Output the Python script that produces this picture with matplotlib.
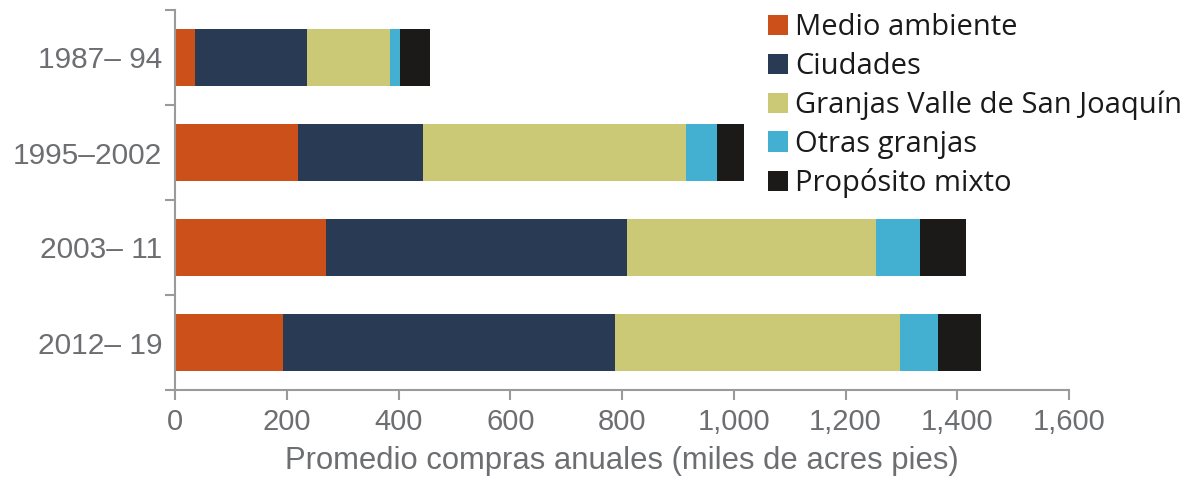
import matplotlib
matplotlib.use("Agg")
import matplotlib.pyplot as plt
from matplotlib.patches import Patch
import numpy as np

categories = ["1987– 94", "1995–2002", "2003– 11", "2012– 19"]
series_names = ["Medio ambiente", "Ciudades", "Granjas Valle de San Joaquín",
                "Otras granjas", "Propósito mixto"]
medio_ambiente = [36, 220, 270, 193]
ciudades = [201, 224, 539, 594]
granjas_sj = [148, 470, 445, 510]
otras_granjas = [18, 56, 80, 68]
proposito_mixto = [54, 48, 81, 78]
x_ticks = [0, 200, 400, 600, 800, 1000, 1200, 1400, 1600]
x_ticklabels = ["0", "200", "400", "600", "800", "1,000", "1,200", "1,400", "1,600"]
xlabel = "Promedio compras anuales (miles de acres pies)"

colors = ["#cc5019", "#283a54", "#ccc976", "#43afd1", "#1c1a19"]
gray = "#6d6e71"
spine_gray = "#9a9a9a"
tick_font = ["Liberation Sans Narrow", "Liberation Sans", "DejaVu Sans"]

fig = plt.figure(figsize=(12.01, 4.83), dpi=100)
ax = fig.add_axes([175 / 1201, (483 - 390) / 483, (1069 - 175) / 1201, 380 / 483])

series = [medio_ambiente, ciudades, granjas_sj, otras_granjas, proposito_mixto]
y = np.arange(len(categories))
left = np.zeros(len(categories))
for vals, c in zip(series, colors):
    ax.barh(y, vals, left=left, height=0.6, color=c, edgecolor="none")
    left += np.array(vals)

ax.set_xlim(0, 1600)
ax.set_ylim(3.5, -0.5)
ax.set_yticks(y)
ax.set_yticklabels(categories, fontsize=21.5, color=gray, family=tick_font)
ax.set_yticks(np.arange(-0.5, 4.0, 1.0), minor=True)
ax.tick_params(axis="y", which="major", length=0, pad=9)
ax.tick_params(axis="y", which="minor", length=7, width=1.5, color=spine_gray)
ax.set_xticks(x_ticks)
ax.set_xticklabels(x_ticklabels, fontsize=21, color=gray, family=tick_font)
ax.tick_params(axis="x", length=7, width=1.5, color=spine_gray, pad=6)
ax.set_xlabel(xlabel, fontsize=22.3, color=gray, family=tick_font, labelpad=7)

for s in ["top", "right"]:
    ax.spines[s].set_visible(False)
for s in ["left", "bottom"]:
    ax.spines[s].set_color(spine_gray)
    ax.spines[s].set_linewidth(1.5)

handles = [Patch(facecolor=c, edgecolor="none") for c in colors]
leg = ax.legend(handles, series_names, loc="upper left",
                bbox_to_anchor=((756 - 175) / (1069 - 175), 1.022),
                frameon=False, prop={"family": ["Open Sans", "DejaVu Sans"], "size": 21},
                handlelength=0.7, handleheight=0.7, handletextpad=0.25,
                labelspacing=0.33, borderaxespad=0)
for t in leg.get_texts():
    t.set_color("#1a1a1a")

fig.savefig("out.png", dpi=100)
